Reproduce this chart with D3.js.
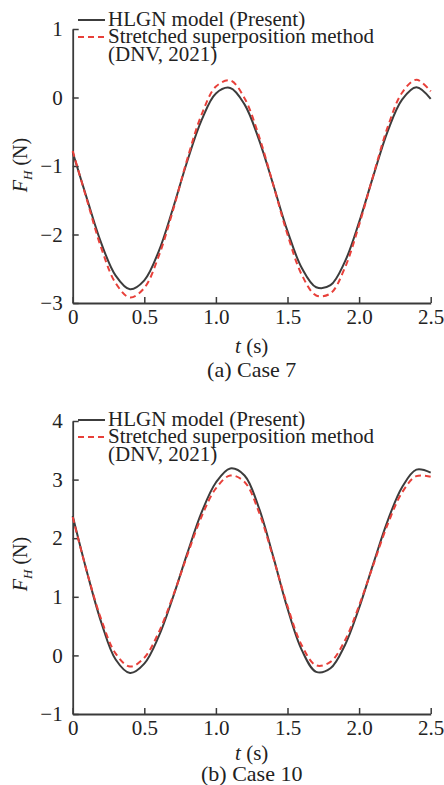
<!DOCTYPE html>
<html>
<head>
<meta charset="utf-8">
<script src="https://cdn.jsdelivr.net/npm/d3@7"></script>
<style>
  html, body { margin: 0; padding: 0; background: #fff; }
  svg { display: block; }
</style>
</head>
<body>
<script>
// --- data (t in s, force in N) ---
const times = [0, 0.1, 0.2, 0.3, 0.4, 0.5, 0.6, 0.7, 0.8, 0.9, 1.0, 1.1, 1.2,
  1.3, 1.4, 1.5, 1.6, 1.7, 1.8, 1.9, 2.0, 2.1, 2.2, 2.3, 2.4, 2.5];

// (a) Case 7
const hlgnCase7 = [-0.80, -1.48, -2.13, -2.60, -2.80, -2.67, -2.25, -1.62, -0.93, -0.33,
  0.06, 0.14, -0.10, -0.61, -1.27, -1.95, -2.49, -2.77, -2.74, -2.40, -1.82, -1.14,
  -0.49, -0.03, 0.15, -0.02];
const dnvCase7 = [-0.78, -1.50, -2.20, -2.71, -2.92, -2.78, -2.32, -1.65, -0.90, -0.25,
  0.16, 0.25, -0.01, -0.56, -1.27, -2.00, -2.59, -2.89, -2.86, -2.49, -1.86, -1.13,
  -0.43, 0.07, 0.26, 0.09];

// (b) Case 10
const hlgnCase10 = [2.38, 1.42, 0.56, -0.07, -0.30, -0.14, 0.32, 0.99, 1.74, 2.44,
  2.95, 3.19, 3.07, 2.52, 1.69, 0.80, 0.09, -0.28, -0.22, 0.17, 0.81, 1.57, 2.30,
  2.87, 3.17, 3.12];
const dnvCase10 = [2.36, 1.42, 0.61, 0.03, -0.19, -0.04, 0.39, 1.01, 1.71, 2.37,
  2.85, 3.07, 2.96, 2.45, 1.67, 0.84, 0.17, -0.17, -0.11, 0.25, 0.85, 1.55, 2.24,
  2.78, 3.06, 3.05];

const xTicks = [0, 0.5, 1.0, 1.5, 2.0, 2.5];
const xTickLabels = ["0", "0.5", "1.0", "1.5", "2.0", "2.5"];
const yTicksA = [-3, -2, -1, 0, 1];
const yTicksB = [-1, 0, 1, 2, 3, 4];

const legendLabels = ["HLGN model (Present)", "Stretched superposition method", "(DNV, 2021)"];

const W = 444, H = 785;
const FONT = "'Liberation Serif', 'Times New Roman', Times, serif";
const AXIS_COLOR = "#3a3a3a";
const BLACK = "#3c3c3c";
const RED = "#e8403a";

const svg = d3.select("body").append("svg")
  .attr("width", W)
  .attr("height", H)
  .attr("viewBox", `0 0 ${W} ${H}`)
  .style("font-family", FONT);

svg.append("rect").attr("width", W).attr("height", H).attr("fill", "white");

const fmtMinus = (d) => (d < 0 ? "\u2212" + Math.abs(d) : String(d));

function drawPanel({ top, bottom, yDomain, yTicks, hlgn, dnv, legendTop, labelY, xLabelGap, captionGap, caption }) {
  const x = d3.scaleLinear().domain([0, 2.5]).range([72.7, 430.7]);
  const y = d3.scaleLinear().domain(yDomain).range([bottom, top]);
  const g = svg.append("g");

  // x axis (ticks point inward)
  g.append("g")
    .attr("transform", `translate(0,${bottom})`)
    .call(d3.axisBottom(x)
      .tickValues(xTicks)
      .tickFormat((d, i) => xTickLabels[i])
      .tickSizeInner(-6)
      .tickSizeOuter(0)
      .tickPadding(6))
    .call((a) => {
      a.attr("font-family", FONT);
      a.select(".domain").attr("stroke", AXIS_COLOR).attr("stroke-width", 1.8);
      a.selectAll(".tick line").attr("stroke", AXIS_COLOR).attr("stroke-width", 1.5);
      a.selectAll("text").attr("font-size", 21).attr("fill", "#222");
    });

  // y axis
  g.append("g")
    .attr("transform", `translate(${x(0)},0)`)
    .call(d3.axisLeft(y)
      .tickValues(yTicks)
      .tickFormat(fmtMinus)
      .tickSizeInner(-6)
      .tickSizeOuter(0)
      .tickPadding(10))
    .call((a) => {
      a.attr("font-family", FONT);
      a.select(".domain").attr("stroke", AXIS_COLOR).attr("stroke-width", 1.8);
      a.selectAll(".tick line").attr("stroke", AXIS_COLOR).attr("stroke-width", 1.5);
      a.selectAll("text").attr("font-size", 21).attr("fill", "#222");
    });

  const line = (vals) => d3.line()
    .x((d, i) => x(times[i]))
    .y((d) => y(d))
    .curve(d3.curveCatmullRom.alpha(0.5))(vals);

  // black first, red dashed on top
  g.append("path")
    .attr("d", line(hlgn))
    .attr("fill", "none")
    .attr("stroke", BLACK)
    .attr("stroke-width", 2);

  g.append("path")
    .attr("d", line(dnv))
    .attr("fill", "none")
    .attr("stroke", RED)
    .attr("stroke-width", 2)
    .attr("stroke-dasharray", "6,4");

  // legend
  const lg = g.append("g").attr("transform", `translate(0,${legendTop})`);
  lg.append("line").attr("x1", 78).attr("x2", 105).attr("y1", 20).attr("y2", 20)
    .attr("stroke", BLACK).attr("stroke-width", 2);
  lg.append("line").attr("x1", 78).attr("x2", 105).attr("y1", 37).attr("y2", 37)
    .attr("stroke", RED).attr("stroke-width", 2).attr("stroke-dasharray", "6,4");
  lg.selectAll("text.leg")
    .data(legendLabels)
    .join("text")
    .attr("class", "leg")
    .attr("x", 108)
    .attr("y", (d, i) => 26 + i * 17.4)
    .attr("font-size", 21)
    .attr("fill", "#222")
    .text((d) => d);

  // y label  F_H (N)
  const yl = g.append("text")
    .attr("transform", `translate(27,${labelY}) rotate(-90)`)
    .attr("text-anchor", "middle")
    .attr("font-size", 20)
    .attr("fill", "#222");
  yl.append("tspan").attr("font-style", "italic").text("F");
  yl.append("tspan").attr("font-style", "italic").attr("font-size", 13).attr("dy", 5).text("H");
  yl.append("tspan").attr("dy", -5).text(" (N)");

  // x label t (s)
  const xl = g.append("text")
    .attr("x", (x(0) + x(2.5)) / 2)
    .attr("y", bottom + xLabelGap)
    .attr("text-anchor", "middle")
    .attr("font-size", 21)
    .attr("fill", "#222");
  xl.append("tspan").attr("font-style", "italic").text("t");
  xl.append("tspan").text(" (s)");

  // caption
  g.append("text")
    .attr("x", (x(0) + x(2.5)) / 2)
    .attr("y", bottom + captionGap)
    .attr("text-anchor", "middle")
    .attr("font-size", 22)
    .attr("fill", "#222")
    .text(caption);
}

drawPanel({
  top: 29, bottom: 303, yDomain: [-3, 1], yTicks: yTicksA,
  hlgn: hlgnCase7, dnv: dnvCase7, legendTop: 0, labelY: 165,
  xLabelGap: 50, captionGap: 74, caption: "(a) Case 7"
});

drawPanel({
  top: 421, bottom: 714, yDomain: [-1, 4], yTicks: yTicksB,
  hlgn: hlgnCase10, dnv: dnvCase10, legendTop: 400, labelY: 564,
  xLabelGap: 46, captionGap: 67, caption: "(b) Case 10"
});
</script>
</body>
</html>
